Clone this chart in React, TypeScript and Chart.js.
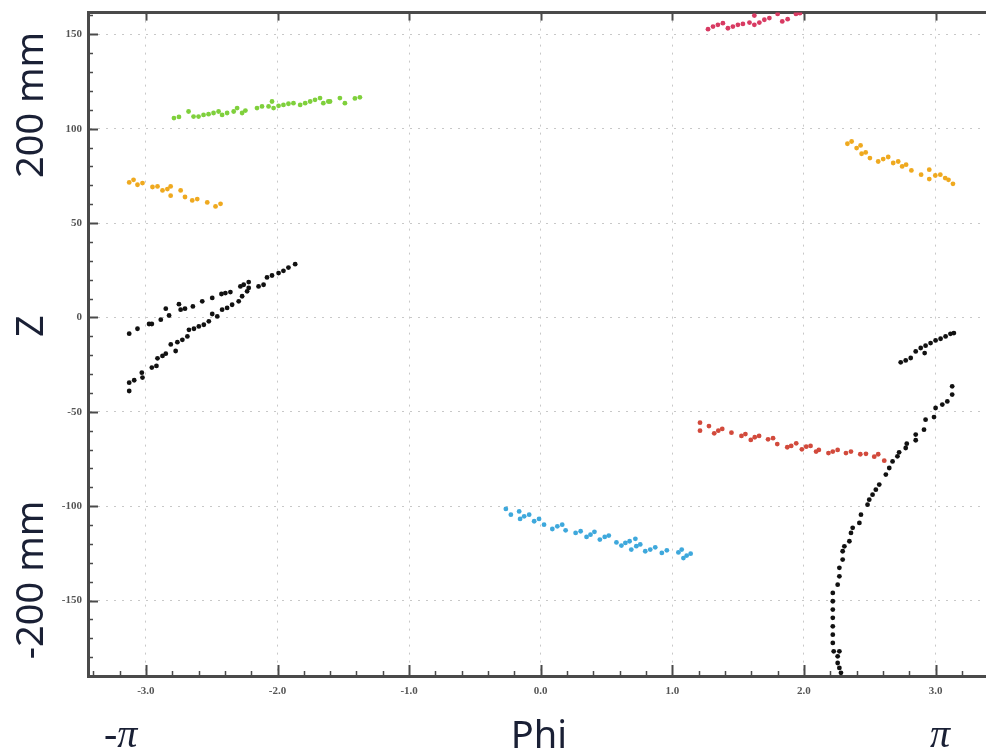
import React, { useEffect, useRef } from "react";
import { Chart, registerables } from "chart.js";

Chart.register(...registerables);

// ---- axes ----
const xMajorTicks = [-3, -2, -1, 0, 1, 2, 3];
const yMajorTicks = [-150, -100, -50, 0, 50, 100, 150];
const xMin = -3.44;
const xMax = 3.38;
const yMin = -190;
const yMax = 161.5;

// ---- data (phi, z) ----
const greenPhi = [-2.787, -2.749, -2.676, -2.638, -2.6, -2.562, -2.524, -2.486, -2.448, -2.421, -2.383, -2.333, -2.307, -2.269, -2.244, -2.156, -2.118, -2.068, -2.042, -2.03, -1.992, -1.955, -1.917, -1.879, -1.828, -1.79, -1.752, -1.715, -1.677, -1.652, -1.614, -1.601, -1.526, -1.488, -1.412, -1.374];
const greenZ = [105.6, 106.2, 109.1, 106.4, 106.4, 107.3, 107.7, 108.3, 109.1, 107.3, 108.3, 109.1, 110.9, 108.3, 109.6, 110.9, 111.8, 111.8, 114.4, 110.9, 112.1, 112.6, 113.2, 113.5, 112.6, 113.5, 114.4, 115.3, 116.2, 113.5, 114.4, 114.4, 116.2, 113.5, 116.0, 116.6];

const orangeLeftPhi = [-3.127, -3.094, -3.064, -3.026, -2.95, -2.912, -2.874, -2.837, -2.812, -2.812, -2.736, -2.703, -2.648, -2.61, -2.534, -2.471, -2.433];
const orangeLeftZ = [71.5, 72.9, 70.3, 71.2, 69.1, 69.4, 67.3, 68.0, 69.4, 64.5, 67.3, 63.8, 62.0, 62.7, 60.9, 58.8, 60.2];

const crimsonPhi = [1.271, 1.309, 1.346, 1.384, 1.422, 1.46, 1.498, 1.536, 1.586, 1.623, 1.623, 1.661, 1.699, 1.737, 1.8, 1.835, 1.876, 1.939, 1.969];
const crimsonZ = [152.7, 154.1, 155.0, 155.9, 153.2, 154.1, 155.0, 155.5, 156.2, 159.9, 155.0, 156.2, 157.7, 158.6, 160.8, 156.8, 158.0, 160.8, 161.2];

const orangeRightPhi = [2.33, 2.362, 2.4, 2.43, 2.438, 2.469, 2.501, 2.564, 2.602, 2.64, 2.678, 2.716, 2.746, 2.776, 2.816, 2.89, 2.952, 2.952, 2.998, 3.036, 3.073, 3.098, 3.132];
const orangeRightZ = [92.0, 93.2, 89.7, 91.1, 86.7, 87.4, 84.4, 82.6, 83.9, 85.0, 81.8, 82.6, 80.0, 80.9, 77.9, 75.6, 78.3, 73.3, 75.2, 75.6, 73.8, 72.9, 70.8];

const blackAPhi = [-3.127, -3.064, -2.976, -2.955, -2.887, -2.849, -2.824, -2.749, -2.736, -2.703, -2.643, -2.572, -2.496, -2.426, -2.396, -2.358, -2.282, -2.257, -2.219];
const blackAZ = [-8.6, -6.0, -3.5, -3.5, -1.2, 4.6, 1.0, 7.0, 4.1, 4.6, 5.8, 8.5, 10.3, 12.4, 12.9, 13.4, 16.4, 17.3, 18.7];

const blackBPhi = [-3.127, -3.127, -3.089, -3.031, -3.026, -2.955, -2.92, -2.912, -2.874, -2.849, -2.811, -2.774, -2.761, -2.723, -2.685, -2.673, -2.635, -2.598, -2.56, -2.522, -2.496, -2.458, -2.421, -2.383, -2.345, -2.295, -2.269, -2.231, -2.219, -2.144, -2.106, -2.08, -2.042, -1.992, -1.955, -1.917, -1.866];
const blackBZ = [-39.0, -34.6, -33.3, -29.3, -31.9, -26.6, -25.7, -21.7, -20.4, -19.2, -14.3, -17.8, -13.1, -11.9, -10.1, -6.6, -6.0, -4.8, -3.9, -2.1, 1.8, 0.5, 4.1, 5.0, 6.7, 8.5, 11.2, 13.8, 15.6, 16.4, 17.3, 21.2, 22.2, 23.5, 24.7, 26.4, 28.2];

const blackCPhi = [2.735, 2.773, 2.811, 2.849, 2.887, 2.917, 2.924, 2.962, 3.0, 3.038, 3.076, 3.113, 3.139];
const blackCZ = [-23.8, -22.8, -21.5, -18.0, -16.2, -18.9, -15.0, -13.6, -12.2, -11.3, -10.1, -8.7, -8.3];

const blackDPhi = [3.126, 3.126, 3.089, 3.051, 3.0, 2.988, 2.924, 2.912, 2.849, 2.849, 2.781, 2.773, 2.723, 2.71, 2.673, 2.648, 2.622, 2.572, 2.546, 2.521, 2.496, 2.483, 2.433, 2.421, 2.37, 2.357, 2.345, 2.307, 2.294, 2.294, 2.269, 2.269, 2.256, 2.219, 2.219, 2.219, 2.219, 2.219, 2.219, 2.219, 2.226, 2.269, 2.256, 2.256, 2.269, 2.281];
const blackDZ = [-36.5, -40.9, -44.5, -46.2, -48.0, -52.8, -54.2, -59.5, -62.1, -65.1, -66.9, -69.2, -71.5, -73.6, -76.3, -79.8, -83.3, -88.6, -91.3, -93.9, -96.6, -99.2, -104.5, -108.9, -111.5, -114.2, -118.6, -121.3, -123.9, -128.3, -132.7, -137.2, -141.6, -146.0, -150.4, -154.8, -159.2, -163.7, -168.1, -172.5, -176.9, -176.9, -179.6, -183.1, -185.7, -188.3];

const redPhi = [1.21, 1.21, 1.278, 1.318, 1.349, 1.379, 1.449, 1.525, 1.555, 1.596, 1.626, 1.659, 1.727, 1.765, 1.797, 1.873, 1.903, 1.941, 1.984, 2.017, 2.05, 2.092, 2.113, 2.186, 2.219, 2.256, 2.319, 2.357, 2.428, 2.471, 2.534, 2.564, 2.61];
const redZ = [-55.8, -60.0, -57.6, -61.4, -60.0, -59.1, -61.1, -62.8, -61.8, -64.9, -63.5, -62.8, -64.6, -64.0, -67.1, -68.8, -68.1, -66.7, -69.9, -68.5, -68.1, -71.1, -70.2, -71.9, -71.1, -70.2, -71.9, -71.1, -72.5, -72.3, -73.8, -72.5, -75.9];

const bluePhi = [-0.265, -0.227, -0.164, -0.157, -0.126, -0.088, -0.05, -0.013, 0.025, 0.088, 0.126, 0.163, 0.189, 0.265, 0.303, 0.348, 0.378, 0.408, 0.449, 0.486, 0.517, 0.575, 0.613, 0.643, 0.675, 0.688, 0.719, 0.726, 0.756, 0.794, 0.832, 0.87, 0.92, 0.958, 1.046, 1.071, 1.084, 1.109, 1.139];
const blueZ = [-101.5, -104.5, -102.8, -106.8, -105.4, -104.5, -108.0, -106.8, -109.8, -112.1, -110.7, -109.8, -112.8, -114.2, -113.3, -116.3, -115.1, -113.6, -117.7, -116.3, -115.6, -119.2, -120.9, -119.5, -118.6, -123.0, -117.3, -121.2, -120.3, -123.9, -123.0, -121.8, -124.8, -123.4, -124.5, -123.0, -127.5, -126.2, -125.2];

const seriesList = [
  { label: "green", phi: greenPhi, z: greenZ, color: "#7fd03c" },
  { label: "orangeLeft", phi: orangeLeftPhi, z: orangeLeftZ, color: "#efa91f" },
  { label: "crimson", phi: crimsonPhi, z: crimsonZ, color: "#d83a62" },
  { label: "orangeRight", phi: orangeRightPhi, z: orangeRightZ, color: "#efa91f" },
  { label: "blackA", phi: blackAPhi, z: blackAZ, color: "#111111" },
  { label: "blackB", phi: blackBPhi, z: blackBZ, color: "#111111" },
  { label: "blackC", phi: blackCPhi, z: blackCZ, color: "#111111" },
  { label: "blackD", phi: blackDPhi, z: blackDZ, color: "#111111" },
  { label: "red", phi: redPhi, z: redZ, color: "#d24a3c" },
  { label: "blue", phi: bluePhi, z: blueZ, color: "#3ea8dc" },
];

const AXIS_COLOR = "#4a4a4a";

const innerTicks = {
  id: "innerTicks",
  afterDatasetsDraw(chart: any) {
    const { ctx, chartArea: a, scales } = chart;
    const x = scales.x;
    const y = scales.y;
    ctx.save();
    ctx.strokeStyle = AXIS_COLOR;
    const seg = (x1: number, y1: number, x2: number, y2: number, w: number) => {
      ctx.lineWidth = w;
      ctx.beginPath();
      ctx.moveTo(x1, y1);
      ctx.lineTo(x2, y2);
      ctx.stroke();
    };
    for (let k = -34; k <= 33; k += 2) {
      if (k % 10 === 0) continue;
      const px = Math.round(x.getPixelForValue(k / 10)) + 0.5;
      seg(px, a.bottom, px, a.bottom - 5, 1.5);
    }
    for (const v of xMajorTicks) {
      const px = Math.round(x.getPixelForValue(v)) + 0.5;
      seg(px, a.bottom, px, a.bottom - 11, 2);
      seg(px, a.top, px, a.top + 8, 2);
    }
    for (let v = -180; v <= 160; v += 10) {
      if (v % 50 === 0) continue;
      const py = Math.round(y.getPixelForValue(v)) + 0.5;
      seg(a.left, py, a.left + 5, py, 1.5);
    }
    for (const v of yMajorTicks) {
      const py = Math.round(y.getPixelForValue(v)) + 0.5;
      seg(a.left, py, a.left + 10, py, 2);
    }
    ctx.restore();
  },
};

const tickFont = { family: "'Liberation Serif', serif", weight: "bold" as const, size: 11 };

export default function App() {
  const ref = useRef<HTMLCanvasElement | null>(null);

  useEffect(() => {
    if (!ref.current) return;
    const chart = new Chart(ref.current, {
      type: "scatter",
      data: {
        datasets: seriesList.map((s) => ({
          label: s.label,
          data: s.phi.map((p, i) => ({ x: p, y: s.z[i] })),
          backgroundColor: s.color,
          borderColor: s.color,
          borderWidth: 0,
          pointRadius: 2.4,
          pointHoverRadius: 2.4,
        })),
      },
      options: {
        responsive: false,
        animation: false,
        devicePixelRatio: 1,
        layout: { padding: 0 },
        plugins: { legend: { display: false }, tooltip: { enabled: false }, title: { display: false } },
        scales: {
          x: {
            type: "linear",
            position: "bottom",
            min: xMin,
            max: xMax,
            afterBuildTicks: (s: any) => {
              s.ticks = xMajorTicks.map((v) => ({ value: v }));
            },
            afterFit: (s: any) => {
              s.height = 75;
              s.paddingLeft = 0;
              s.paddingRight = 0;
            },
            ticks: {
              autoSkip: false,
              maxRotation: 0,
              padding: 9,
              color: "#555",
              font: tickFont,
              callback: (v: any) => Number(v).toFixed(1),
            },
            grid: { color: "#c8c8c8", lineWidth: 1, drawTicks: false },
            border: { display: true, color: AXIS_COLOR, width: 3, dash: [2, 6] },
          },
          xTop: {
            type: "linear",
            position: "top",
            min: xMin,
            max: xMax,
            afterFit: (s: any) => {
              s.height = 12;
              s.paddingLeft = 0;
              s.paddingRight = 0;
            },
            ticks: { display: false },
            grid: { display: false, drawTicks: false },
            border: { display: true, color: AXIS_COLOR, width: 3 },
          },
          y: {
            type: "linear",
            position: "left",
            min: yMin,
            max: yMax,
            afterBuildTicks: (s: any) => {
              s.ticks = yMajorTicks.map((v) => ({ value: v }));
            },
            afterFit: (s: any) => {
              s.width = 88;
            },
            ticks: {
              autoSkip: false,
              padding: 6,
              color: "#555",
              font: tickFont,
              callback: (v: any) => String(v),
            },
            grid: { color: "#c8c8c8", lineWidth: 1, drawTicks: false },
            border: { display: true, color: AXIS_COLOR, width: 3, dash: [2, 6] },
          },
        },
      },
      plugins: [innerTicks],
    });
    return () => chart.destroy();
  }, []);

  const sans = "'Noto Sans', 'Open Sans', sans-serif";
  const ink = "#1a2035";
  const rotated = (text: string, cx: number, cy: number) => (
    <div
      style={{
        position: "absolute",
        left: cx,
        top: cy,
        transform: "translate(-50%, -50%) rotate(-90deg)",
        whiteSpace: "nowrap",
        fontFamily: sans,
        fontSize: 38,
        lineHeight: "1",
        color: ink,
      }}
    >
      {text}
    </div>
  );

  return (
    <div style={{ position: "fixed", left: 0, top: 0, width: 988, height: 751, background: "#fff", overflow: "hidden" }}>
      <canvas ref={ref} width={988} height={751} style={{ position: "absolute", left: 0, top: 0 }} />
      {rotated("200 mm", 28, 105)}
      {rotated("Z", 28, 326)}
      {rotated("-200 mm", 28, 580)}
      <div
        style={{
          position: "absolute",
          left: 539,
          top: 714,
          transform: "translateX(-50%)",
          fontFamily: sans,
          fontSize: 38,
          lineHeight: "1",
          color: ink,
        }}
      >
        Phi
      </div>
      <div
        style={{
          position: "absolute",
          left: 104,
          top: 714,
          fontFamily: "'Liberation Serif', serif",
          fontStyle: "italic",
          fontSize: 40,
          lineHeight: "1",
          color: ink,
        }}
      >
        -π
      </div>
      <div
        style={{
          position: "absolute",
          left: 930,
          top: 714,
          fontFamily: "'Liberation Serif', serif",
          fontStyle: "italic",
          fontSize: 40,
          lineHeight: "1",
          color: ink,
        }}
      >
        π
      </div>
    </div>
  );
}
